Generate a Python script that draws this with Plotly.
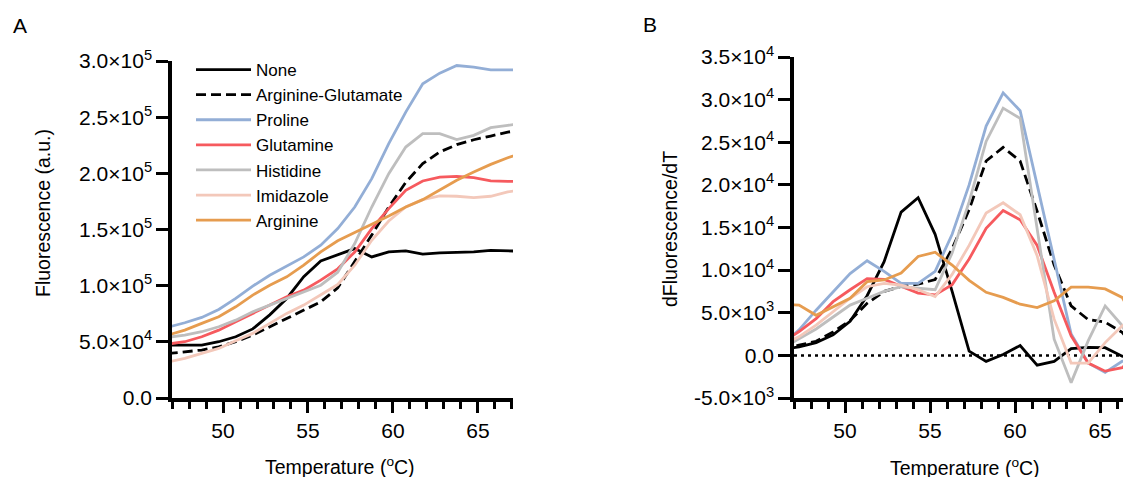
import plotly.graph_objects as go

# ---------------- data ----------------
temps_A = [46.75, 47.75, 48.75, 49.75, 50.75, 51.75, 52.75, 53.75, 54.75, 55.75, 56.75,
           57.75, 58.75, 59.75, 60.75, 61.75, 62.75, 63.75, 64.75, 65.75, 66.75, 67.75]
temps_B = [46.3, 47.3, 48.3, 49.3, 50.3, 51.3, 52.3, 53.3, 54.3, 55.3, 56.3,
           57.3, 58.3, 59.3, 60.3, 61.3, 62.3, 63.3, 64.3, 65.3, 66.3, 67.3]

names = ["None", "Arginine-Glutamate", "Proline", "Glutamine", "Histidine", "Imidazole", "Arginine"]

none_A = [47000, 47100, 47100, 50100, 54500, 61500, 74000, 88600, 108000, 122000, 127500,
          133000, 125600, 130000, 131000, 128000, 129200, 129500, 130000, 131500, 130700, 130500]
argglu_A = [39500, 41200, 42700, 45600, 50100, 56000, 63400, 70800, 78200, 85600, 98000,
            121000, 145000, 170000, 192000, 208600, 219000, 225500, 229900, 233200, 236700, 239000]
proline_A = [63000, 67000, 71700, 78800, 88600, 99600, 109300, 117300, 125600, 136000, 150800,
             170000, 195300, 226400, 254500, 279700, 289200, 296000, 294500, 292100, 292100, 292000]
glutamine_A = [48000, 50100, 54500, 60400, 67900, 75300, 82700, 90100, 96000, 104900, 115000,
               130000, 150800, 168600, 184900, 193200, 196700, 197300, 196100, 193200, 192900, 192500]
histidine_A = [54000, 56000, 59000, 63400, 69300, 76700, 82700, 88600, 94500, 100400, 112000,
               137500, 170000, 199700, 223400, 235300, 235300, 230000, 233800, 240600, 242700, 245000]
imidazole_A = [32000, 35300, 39700, 44100, 51000, 57500, 66400, 75300, 82700, 91600, 101000,
               118200, 140400, 157600, 170100, 176600, 179900, 179600, 178400, 179600, 183400, 186000]
arginine_A = [56000, 60400, 66400, 72300, 81200, 91600, 100400, 107900, 118200, 130100, 140000,
              147000, 154700, 162100, 170100, 176600, 184900, 193800, 201200, 208000, 213900, 219000]

none_B = [700, 1000, 1500, 2400, 4000, 7000, 11000, 16800, 18500, 14200, 7500,
          500, -700, 100, 1150, -1150, -700, 800, 950, 900, -100, -400]
argglu_B = [600, 1200, 1650, 2750, 4100, 6100, 7500, 8100, 8350, 8900, 12500,
            17100, 22800, 24400, 22800, 16900, 10600, 5800, 4200, 3900, 2700, 300]
proline_B = [1200, 3000, 5300, 7500, 9600, 11100, 9850, 8450, 8450, 9850, 14200,
             20000, 26900, 30800, 28700, 20000, 11200, 2500, -900, -2000, -700, 100]
glutamine_B = [1500, 2800, 4300, 6300, 7700, 9000, 8900, 8100, 7300, 7100, 8300,
               11300, 14900, 17000, 15900, 12900, 7400, 2300, -900, -1850, -1450, 500]
histidine_B = [800, 2000, 3100, 4500, 5900, 6700, 7500, 8050, 7850, 7700, 12000,
               18000, 25100, 29000, 27800, 14900, 1900, -3200, 1700, 5800, 3500, -500]
imidazole_B = [1200, 2200, 3550, 5100, 6700, 8050, 8450, 8250, 7700, 6900, 9500,
               12900, 16700, 17900, 16500, 11700, 4250, -900, -900, 1500, 3450, 4650]
arginine_B = [6000, 5900, 4700, 5700, 6700, 8650, 8850, 9650, 11600, 12100, 10600,
              8800, 7400, 6800, 6000, 5600, 6400, 8000, 8000, 7800, 6800, 3300]

yA_ticks = [0, 50000, 100000, 150000, 200000, 250000, 300000]
yA_text = ["0.0", "5.0×10<sup>4</sup>", "1.0×10<sup>5</sup>", "1.5×10<sup>5</sup>",
           "2.0×10<sup>5</sup>", "2.5×10<sup>5</sup>", "3.0×10<sup>5</sup>"]
yB_ticks = [-5000, 0, 5000, 10000, 15000, 20000, 25000, 30000, 35000]
yB_text = ["-5.0×10<sup>3</sup>", "0.0", "5.0×10<sup>3</sup>", "1.0×10<sup>4</sup>",
           "1.5×10<sup>4</sup>", "2.0×10<sup>4</sup>", "2.5×10<sup>4</sup>",
           "3.0×10<sup>4</sup>", "3.5×10<sup>4</sup>"]

# ---------------- styles ----------------
colors = ["#000000", "#000000", "#93AED6", "#F65A5E", "#BEBEBE", "#F3C8BA", "#E69C4F"]
dashes = ["solid", "10px,5px", "solid", "solid", "solid", "solid", "solid"]
width = 2.8
FONT = "Liberation Sans, Arial, sans-serif"

A_series = [none_A, argglu_A, proline_A, glutamine_A, histidine_A, imidazole_A, arginine_A]
B_series = [none_B, argglu_B, proline_B, glutamine_B, histidine_B, imidazole_B, arginine_B]

fig = go.Figure()
for i in range(7):
    fig.add_trace(go.Scatter(x=temps_A, y=A_series[i], mode="lines", name=names[i],
                             line=dict(color=colors[i], width=width, dash=dashes[i]),
                             xaxis="x", yaxis="y", legendrank=i + 1))
for i in range(7):
    fig.add_trace(go.Scatter(x=temps_B, y=B_series[i], mode="lines", name=names[i],
                             line=dict(color=colors[i], width=width, dash=dashes[i]),
                             xaxis="x2", yaxis="y2", showlegend=False))

W, H = 1131, 477
OFF = 8  # page body margin


def px(x):
    return (x - OFF) / W


def py(y):
    return 1 - (y - OFF) / H


axis_common = dict(showgrid=False, zeroline=False, showline=True, linecolor="black",
                   linewidth=3.5, ticks="outside", tickcolor="black", tickwidth=2.5,
                   automargin=False,
                   tickfont=dict(family=FONT, size=21, color="black"))

xcommon = dict(axis_common, tickmode="linear", tick0=50, dtick=5, ticklen=11,
               minor=dict(dtick=1, tick0=50, ticks="outside", ticklen=7, tickwidth=2.5,
                          tickcolor="black", showgrid=False))

fig.update_layout(
    width=W, height=H,
    margin=dict(l=0, r=0, t=0, b=0, pad=0, autoexpand=False),
    paper_bgcolor="white", plot_bgcolor="white",
    font=dict(family=FONT, color="black"),
    xaxis=dict(xcommon, domain=[px(172), px(513)], range=[47, 67.06], anchor="y"),
    yaxis=dict(axis_common, domain=[py(398), py(61)], range=[0, 300000], anchor="x",
               tickmode="array", tickvals=yA_ticks, ticktext=yA_text, ticklen=12),
    xaxis2=dict(xcommon, domain=[px(794), px(1131)], range=[47, 66.82], anchor="y2"),
    yaxis2=dict(axis_common, domain=[py(398), py(57)], range=[-5000, 35000], anchor="x2",
                tickmode="array", tickvals=yB_ticks, ticktext=yB_text, ticklen=12),
    showlegend=True,
    legend=dict(x=px(191), y=py(52), xanchor="left", yanchor="top",
                bgcolor="rgba(0,0,0,0)", font=dict(family=FONT, size=17, color="black"),
                itemwidth=55, tracegroupgap=0),
)

fig.add_shape(type="line", xref="x2 domain", yref="y2", x0=0, x1=1, y0=0, y1=0,
              line=dict(color="black", width=2.5, dash="3px,4px"), layer="below")

annotations = [
    dict(text="A", x=px(20), y=py(26), size=21, angle=0),
    dict(text="B", x=px(650), y=py(25), size=21, angle=0),
    dict(text="Temperature (<sup>o</sup>C)", x=px(340), y=py(466), size=19.5, angle=0),
    dict(text="Temperature (<sup>o</sup>C)", x=px(965), y=py(467), size=19.5, angle=0),
    dict(text="Fluorescence (a.u.)", x=px(43), y=py(213), size=19.5, angle=-90),
    dict(text="dFluorescence/dT", x=px(670), y=py(229), size=19.5, angle=-90),
]
for a in annotations:
    fig.add_annotation(xref="paper", yref="paper", showarrow=False,
                       xanchor="center", yanchor="middle",
                       font=dict(family=FONT, color="black", size=a["size"]),
                       text=a["text"], x=a["x"], y=a["y"], textangle=a["angle"])

fig.write_html("out.html")
